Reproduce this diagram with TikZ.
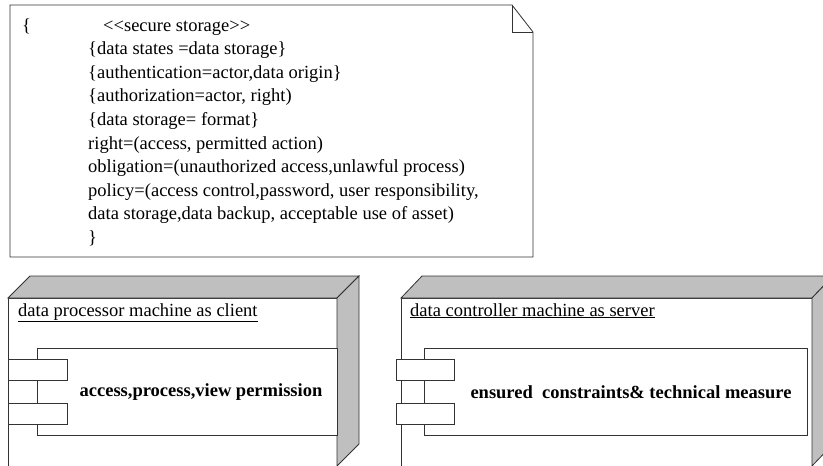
\documentclass[tikz,border=0pt]{standalone}
\usepackage{fontspec}
\setmainfont{Liberation Serif}
\usetikzlibrary{positioning,calc}

\begin{document}
\begin{tikzpicture}[x=1pt,y=-1pt,line join=miter,
   ln/.style={draw=black!80,line width=0.8pt},
   face/.style={ln,fill=black!25},
   port/.style={ln,fill=white},
   notetxt/.style={anchor=base west,inner sep=0pt,font=\fontsize{18.5}{20}\selectfont},
   devlab/.style={anchor=base west,inner sep=0pt,font=\fontsize{18.5}{20}\selectfont},
   complab/.style={inner sep=0pt,font=\fontsize{18.5}{20}\selectfont\bfseries}]
  \useasboundingbox (0,0) rectangle (823,466);
  \clip (0,0) rectangle (823,466);
  % note
  \draw[ln,fill=white] (10,5) -- (512,5) -- (533,32) -- (533,257) -- (10,257) -- cycle;
  \draw[ln] (512,5) -- (512,32) -- (533,32);
  \node[notetxt] (ob) at (22,31) {\{};
  \node[notetxt] (st) at (103,31) {<{}<secure storage>{}>};
  \node[notetxt] (l1) at (88,54.6) {\{data states =data storage\}};
  \node[notetxt] (l2) at (88,78.2) {\{authentication=actor,data origin\}};
  \node[notetxt] (l3) at (88,101.8) {\{authorization=actor, right)};
  \node[notetxt] (l4) at (88,125.4) {\{data storage= format\}};
  \node[notetxt] (l5) at (88,149) {right=(access, permitted action)};
  \node[notetxt] (l6) at (88,172.6) {obligation=(unauthorized access,unlawful process)};
  \node[notetxt] (l7) at (88,196.2) {policy=(access control,password, user responsibility,};
  \node[notetxt] (l8) at (88,219.8) {data storage,data backup, acceptable use of asset)};
  \node[notetxt] (cb) at (88,243.4) {\}};
  % client device
  \draw[ln,fill=white] (8,466) -- (8,298) -- (337,298) -- (337,466);
  \draw[face] (8,298) -- (30,276) -- (359,276) -- (337,298) -- cycle;
  \draw[face] (337,298) -- (359,276) -- (359,444) -- (337,466) -- cycle;
  \node[devlab] (client) at (18,316) {\underline{data processor machine as client}};
  \draw[ln,fill=white] (37,348) rectangle (337,435);
  \draw[port] (8,359) rectangle (67,380);
  \draw[port] (8,403) rectangle (67,424);
  \node[complab] (cview) at (201,392) {access,process,view permission};
  % server device
  \draw[ln,fill=white] (401,466) -- (401,298) -- (812,298) -- (812,466);
  \draw[face] (401,298) -- (422,276) -- (833,276) -- (812,298) -- cycle;
  \draw[face] (812,298) -- (833,276) -- (833,444) -- (812,466) -- cycle;
  \node[devlab] (server) at (410,316) {\underline{data controller machine as server}};
  \draw[ln,fill=white] (424,348) rectangle (807,435);
  \draw[port] (396,359) rectangle (454,380);
  \draw[port] (396,403) rectangle (454,424);
  \node[complab] (cmeas) at (631,392) {ensured\ \ constraints\& technical measure};
\end{tikzpicture}
\end{document}
